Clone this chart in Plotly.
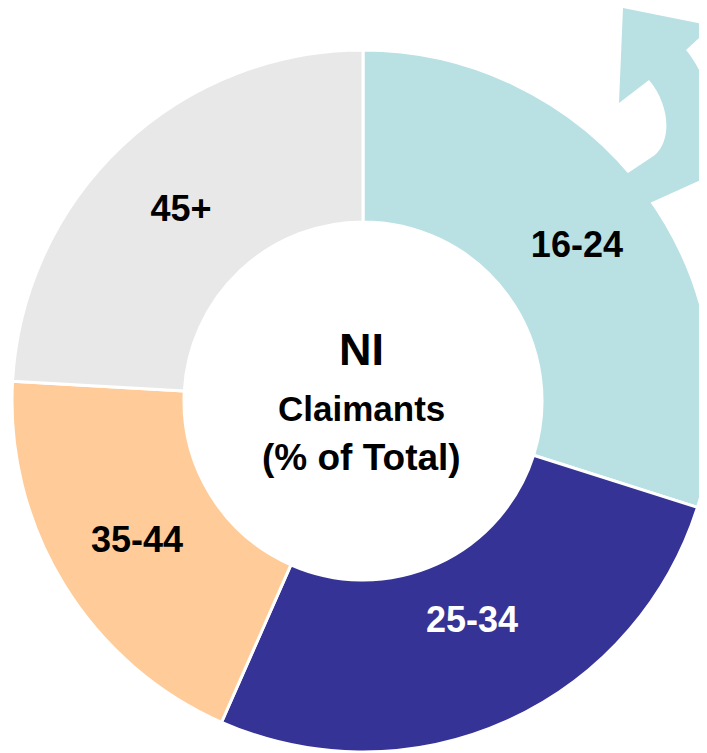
import plotly.graph_objects as go

# Data
age_groups = ["16-24", "25-34", "35-44", "45+"]
shares = [29.9, 26.7, 19.3, 24.1]
slice_text = ["16-24", "25-34<br>&nbsp;", "35-44", "45+"]
slice_colors = ["#B9E0E3", "#363396", "#FFCC99", "#E8E8E8"]
label_colors = ["#000000", "#FFFFFF", "#000000", "#000000"]
center_lines = ["NI", "Claimants", "(% of Total)"]

# figure is placed at an 8px page offset (default body margin)
OFF = 8
W, H = 720, 765

# pie geometry in page pixels: centre (363, 401), radius 351
CX, CY, R = 363 - OFF, 401 - OFF, 351

fig = go.Figure()
fig.add_trace(go.Pie(
    labels=age_groups,
    values=shares,
    text=slice_text,
    sort=False,
    direction="clockwise",
    rotation=0,
    hole=0.51,
    marker=dict(colors=slice_colors, line=dict(color="white", width=3)),
    textinfo="text",
    textposition="inside",
    insidetextorientation="horizontal",
    textfont=dict(family="Liberation Sans, Arial, sans-serif", size=36,
                  color=label_colors, weight="bold"),
    domain=dict(x=[(CX - R) / W, (CX + R) / W],
                y=[1 - (CY + R) / H, 1 - (CY - R) / H]),
    showlegend=False,
    hoverinfo="label+value",
))


def px(x, y):
    return f"{(x - OFF) / W:.5f},{1 - (y - OFF) / H:.5f}"


arrow_path = (
    f"M {px(600,160)} L {px(628,173)} L {px(655,155)} "
    f"C {px(672,140)} {px(670,105)} {px(649,80)} "
    f"L {px(619,103)} L {px(623,8)} L {px(712,26)} L {px(686,50)} "
    f"C {px(715,85)} {px(725,150)} {px(707,177)} "
    f"L {px(652,202)} L {px(630,212)} Z"
)
fig.add_shape(type="path", path=arrow_path, xref="paper", yref="paper",
              fillcolor="#B9E0E3", line=dict(width=0), layer="above")

cx = (361 - OFF) / W
font_c = "Liberation Sans, Arial, sans-serif"
fig.add_annotation(x=cx, y=1 - (349 - OFF) / H, xref="paper", yref="paper",
                   text=center_lines[0], showarrow=False,
                   font=dict(family=font_c, size=45, color="black", weight="bold"))
fig.add_annotation(x=cx, y=1 - (408 - OFF) / H, xref="paper", yref="paper",
                   text=center_lines[1], showarrow=False,
                   font=dict(family=font_c, size=35, color="black", weight="bold"))
fig.add_annotation(x=cx, y=1 - (457 - OFF) / H, xref="paper", yref="paper",
                   text=center_lines[2], showarrow=False,
                   font=dict(family=font_c, size=37, color="black", weight="bold"))

fig.update_layout(
    width=W, height=H,
    margin=dict(l=0, r=0, t=0, b=0),
    paper_bgcolor="white",
    plot_bgcolor="white",
)

fig.write_html("out.html")
